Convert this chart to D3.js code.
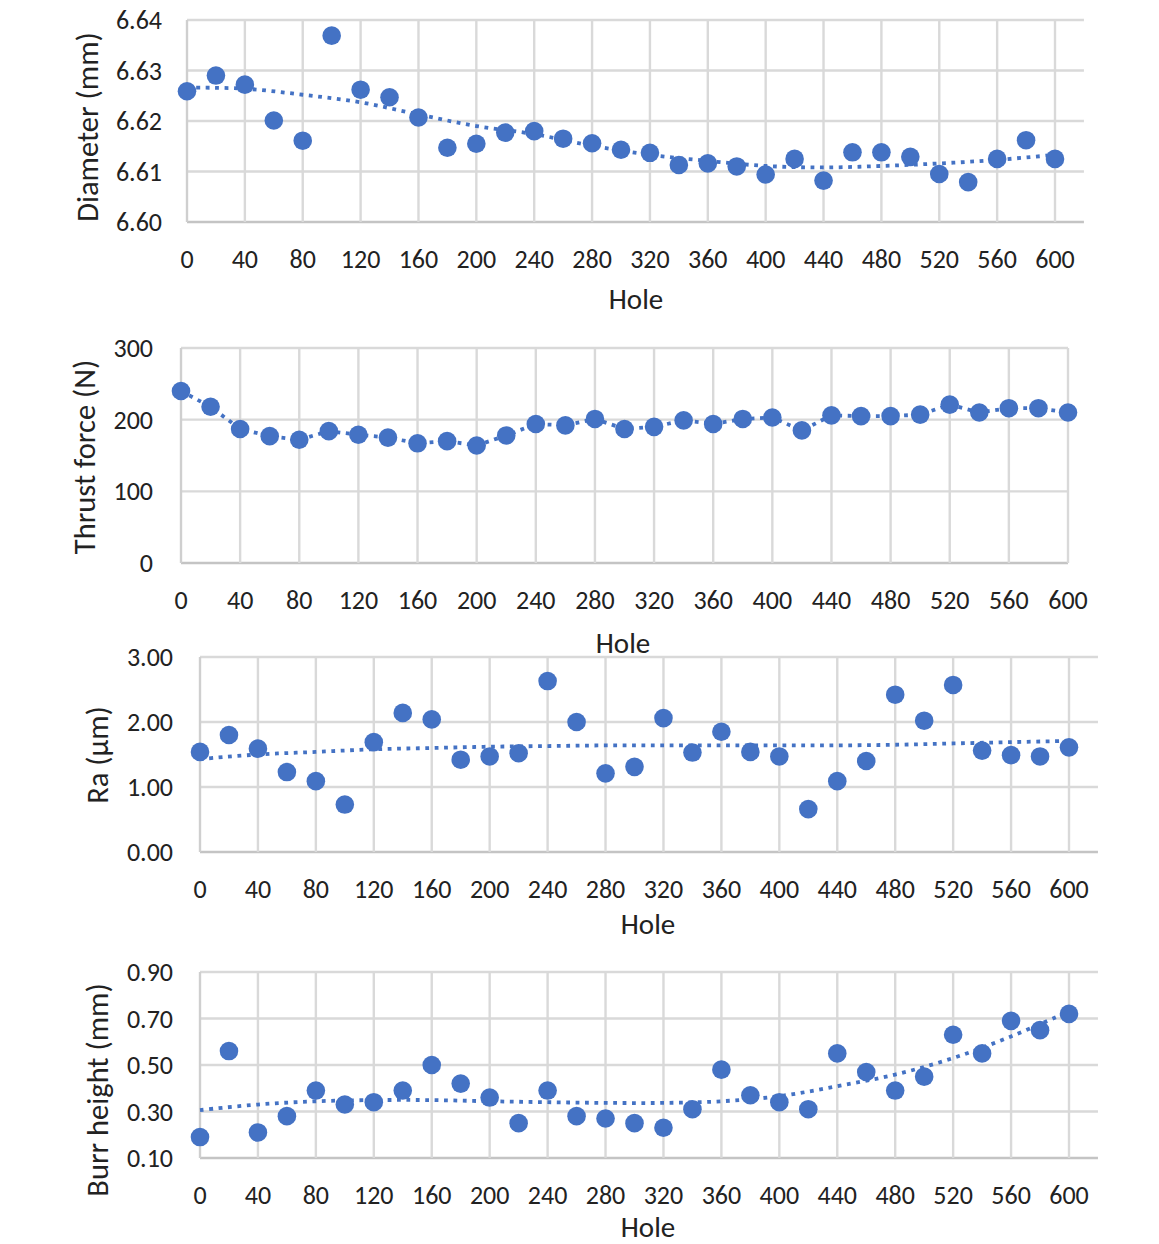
<!DOCTYPE html>
<html><head><meta charset="utf-8">
<script src="https://cdn.jsdelivr.net/npm/d3@7"></script>
<style>
body{margin:0;background:#fff;}
text{font-family:Carlito,Lato,"Liberation Sans",sans-serif;fill:#222;}
</style></head>
<body>
<svg id="c" width="1159" height="1244"></svg>
<script>
// ---- data ----
const holes = [0,20,40,60,80,100,120,140,160,180,200,220,240,260,280,300,320,340,360,380,400,420,440,460,480,500,520,540,560,580,600];
const xTicks = [0,40,80,120,160,200,240,280,320,360,400,440,480,520,560,600];

const diameter = [6.6259,6.6290,6.6272,6.6201,6.6161,6.6369,6.6262,6.6247,6.6207,6.6147,6.6155,6.6177,6.6180,6.6165,6.6156,6.6143,6.6137,6.6113,6.6116,6.6110,6.6094,6.6125,6.6082,6.6138,6.6138,6.6129,6.6095,6.6079,6.6125,6.6162,6.6125];
const thrust = [240,218,187,177,172,184,179,175,167,170,164,178,194,192,201,187,190,199,194,201,203,185,206,205,205,207,221,210,216,216,210];
const ra = [1.54,1.80,1.59,1.23,1.09,0.73,1.69,2.14,2.04,1.42,1.47,1.52,2.63,2.00,1.21,1.31,2.06,1.53,1.85,1.54,1.47,0.66,1.09,1.40,2.42,2.02,2.57,1.56,1.49,1.47,1.61];
const burr = [0.19,0.56,0.21,0.28,0.39,0.33,0.34,0.39,0.50,0.42,0.36,0.25,0.39,0.28,0.27,0.25,0.23,0.31,0.48,0.37,0.34,0.31,0.55,0.47,0.39,0.45,0.63,0.55,0.69,0.65,0.72];

// trendline values at every 40 holes
const trendHoles = [0,40,80,120,160,200,240,280,320,360,400,440,480,520,560,600];
const diameterTrend = [6.6266,6.6264,6.6252,6.6237,6.6213,6.6190,6.6174,6.6151,6.6133,6.6121,6.6111,6.6108,6.6111,6.6116,6.6123,6.6133];
const raTrend = [1.43,1.50,1.54,1.58,1.60,1.62,1.63,1.64,1.64,1.64,1.64,1.64,1.65,1.67,1.69,1.71];
const burrTrend = [0.306,0.330,0.344,0.349,0.349,0.344,0.340,0.337,0.337,0.344,0.366,0.409,0.459,0.530,0.623,0.730];

const diameterTicks = [6.60,6.61,6.62,6.63,6.64];
const thrustTicks = [0,100,200,300];
const raTicks = [0,1,2,3];
const burrTicks = [0.10,0.30,0.50,0.70,0.90];

// ---- layout ----
const panels = [
  {values:diameter, trend:diameterTrend, trendX:trendHoles, yDomain:[6.60,6.64], yTicks:diameterTicks, fmt:d3.format(".2f"),
   left:187, xMax:620, x600:1055, top:20, bottom:222, title:"Diameter (mm)", titleX:87, titleY:127, holeX:636, holeY:299, labGap:25},
  {values:thrust, trend:thrust, trendX:holes, yDomain:[0,300], yTicks:thrustTicks, fmt:d3.format("d"),
   left:181, xMax:600, x600:1068, top:348, bottom:563, title:"Thrust force (N)", titleX:84, titleY:457, holeX:623, holeY:643, labGap:28, linear:true},
  {values:ra, trend:raTrend, trendX:trendHoles, yDomain:[0,3], yTicks:raTicks, fmt:d3.format(".2f"),
   left:200, xMax:620, x600:1069, top:657, bottom:852, title:"Ra (µm)", titleX:97, titleY:755, holeX:648, holeY:924, labGap:27},
  {values:burr, trend:burrTrend, trendX:trendHoles, yDomain:[0.10,0.90], yTicks:burrTicks, fmt:d3.format(".2f"),
   left:200, xMax:620, x600:1069, top:972, bottom:1158, title:"Burr height (mm)", titleX:97, titleY:1090, holeX:648, holeY:1227, labGap:27}
];

const svg = d3.select("#c");
const blue = "#4472C4";
const grid = "#d9d9d9";

panels.forEach(p => {
  const x = d3.scaleLinear().domain([0,600]).range([p.left, p.x600]);
  const xRight = x(p.xMax);
  const y = d3.scaleLinear().domain(p.yDomain).range([p.bottom, p.top]);
  const g = svg.append("g");

  // horizontal gridlines
  g.selectAll(".hg").data(p.yTicks).join("line")
    .attr("x1", p.left).attr("x2", xRight)
    .attr("y1", d => y(d)).attr("y2", d => y(d))
    .attr("stroke", (d,i) => i===0 ? "#c4c4c4" : grid).attr("stroke-width", 2.4);
  // vertical gridlines
  g.selectAll(".vg").data(xTicks).join("line")
    .attr("x1", d => x(d)).attr("x2", d => x(d))
    .attr("y1", p.top).attr("y2", p.bottom)
    .attr("stroke", (d,i) => i===0 ? "#cfcfcf" : grid).attr("stroke-width", 2.4);

  // y tick labels
  g.selectAll(".yl").data(p.yTicks).join("text")
    .attr("x", p.left - p.labGap).attr("y", d => y(d))
    .attr("text-anchor","end").attr("dominant-baseline","central")
    .attr("font-size", 26).text(p.fmt);
  // x tick labels
  g.selectAll(".xl").data(xTicks).join("text")
    .attr("x", d => x(d)).attr("y", p.bottom + 37)
    .attr("text-anchor","middle").attr("dominant-baseline","central")
    .attr("font-size", 26).text(d => d);

  // titles
  g.append("text").attr("x", p.holeX).attr("y", p.holeY)
    .attr("text-anchor","middle").attr("dominant-baseline","central")
    .attr("font-size", 29).text("Hole");
  g.append("text").attr("transform", `translate(${p.titleX},${p.titleY}) rotate(-90)`)
    .attr("text-anchor","middle").attr("dominant-baseline","central")
    .attr("font-size", 30.5).text(p.title);

  // trend line
  const line = d3.line().x((d,i) => x(p.trendX[i])).y(d => y(d))
    .curve(p.linear ? d3.curveLinear : d3.curveCatmullRom);
  g.append("path").datum(p.trend).attr("d", line)
    .attr("fill","none").attr("stroke", blue).attr("stroke-width", 3.8)
    .attr("stroke-dasharray","3.8,5.6");

  // points
  g.selectAll(".pt").data(p.values).join("circle")
    .attr("cx", (d,i) => x(holes[i])).attr("cy", d => y(d))
    .attr("r", 9.3).attr("fill", blue);
});
</script>
</body></html>
